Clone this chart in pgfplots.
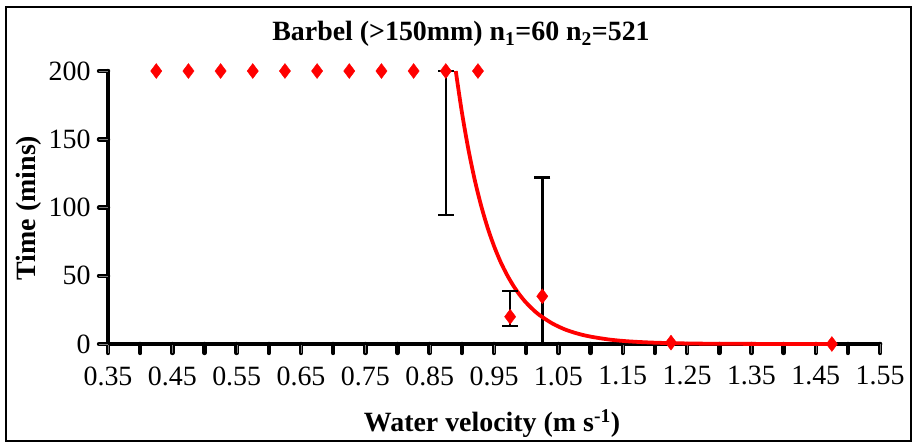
\documentclass[border=0pt]{standalone}
\usepackage{fontspec}
\setmainfont{Liberation Serif}
\usepackage{pgfplots}
\pgfplotsset{compat=1.18}
\begin{document}
\begin{tikzpicture}
% heavy Excel-style axis lines and ticks, drawn under the axis
\begin{scope}[black, line width=4.5pt, line cap=round]
\draw (108bp,{104bp+274pt}) -- (108bp,104bp) -- ({108bp+775pt},104bp);
\foreach \i in {0,...,24} \draw ({108bp+\i*32.2917pt},104bp) -- ++(0pt,-9pt);
\foreach \i in {0,...,4} \draw (108bp,{104bp+\i*68.5pt}) -- ++(-9pt,0pt);
\end{scope}
\begin{axis}[
  scale only axis,
  width=775pt, height=274pt,
  at={(108bp,104bp)}, anchor=south west,
  xmin=0.35, xmax=1.55, ymin=0, ymax=200,
  axis x line*=bottom, axis y line*=left,
  clip=false,
  tick align=outside,
  xtick={0.35,0.45,0.55,0.65,0.75,0.85,0.95,1.05,1.15,1.25,1.35,1.45,1.55},
  ytick={0,50,100,150,200},
  major tick length=9pt,
  ticklabel style={font=\fontsize{28}{32}\selectfont, /pgf/number format/assume math mode=true},
  xticklabel style={/pgf/number format/.cd, fixed, fixed zerofill, precision=2, /tikz/.cd, yshift=-10pt},
  yticklabel style={/pgf/number format/.cd, fixed, precision=0, /tikz/.cd, xshift=-5pt},
]
% error bars
\addplot[black, line width=2.4pt, mark=-, mark size=8pt] table {
x     y
0.875 94.5
0.875 200

0.975 13
0.975 39

1.025 0
1.025 122
};
% fitted curve
\addplot[red, line width=3.8pt, smooth, no markers] coordinates {
(0.8905,200) (0.90,169.8) (0.91,142.9) (0.92,120.2) (0.93,101.2) (0.94,85.2)
(0.95,71.7) (0.96,60.3) (0.97,50.8) (0.98,42.7) (0.99,35.9) (1.00,30.2)
(1.01,25.5) (1.02,21.4) (1.04,15.2) (1.06,10.7) (1.08,7.6) (1.10,5.4)
(1.13,3.2) (1.16,1.9) (1.20,0.96) (1.25,0.41) (1.30,0.17) (1.40,0.03) (1.475,0.01)
};
% observed points
\addplot[only marks, mark=diamond*, mark size=7.5pt, red, mark options={fill=red, draw=red}] table {
x     y
0.425 200
0.475 200
0.525 200
0.575 200
0.625 200
0.675 200
0.725 200
0.775 200
0.825 200
0.875 200
0.925 200
0.975 20
1.025 35
1.225 1
1.475 0
};
\end{axis}
\draw[line width=1.2pt] (6bp,7bp) rectangle (911bp,441bp);
\path (0,0) rectangle (917bp,448bp);
\node[font=\fontsize{28}{32}\selectfont\bfseries] at (461bp,414bp) {Barbel (>150mm) n\textsubscript{1}=60 n\textsubscript{2}=521};
\node[font=\fontsize{28}{32}\selectfont\bfseries, rotate=90] at (29bp,240bp) {Time (mins)};
\node[font=\fontsize{28}{32}\selectfont\bfseries] at (492bp,24bp) {Water velocity (m s\textsuperscript{-1})};
\end{tikzpicture}
\end{document}
